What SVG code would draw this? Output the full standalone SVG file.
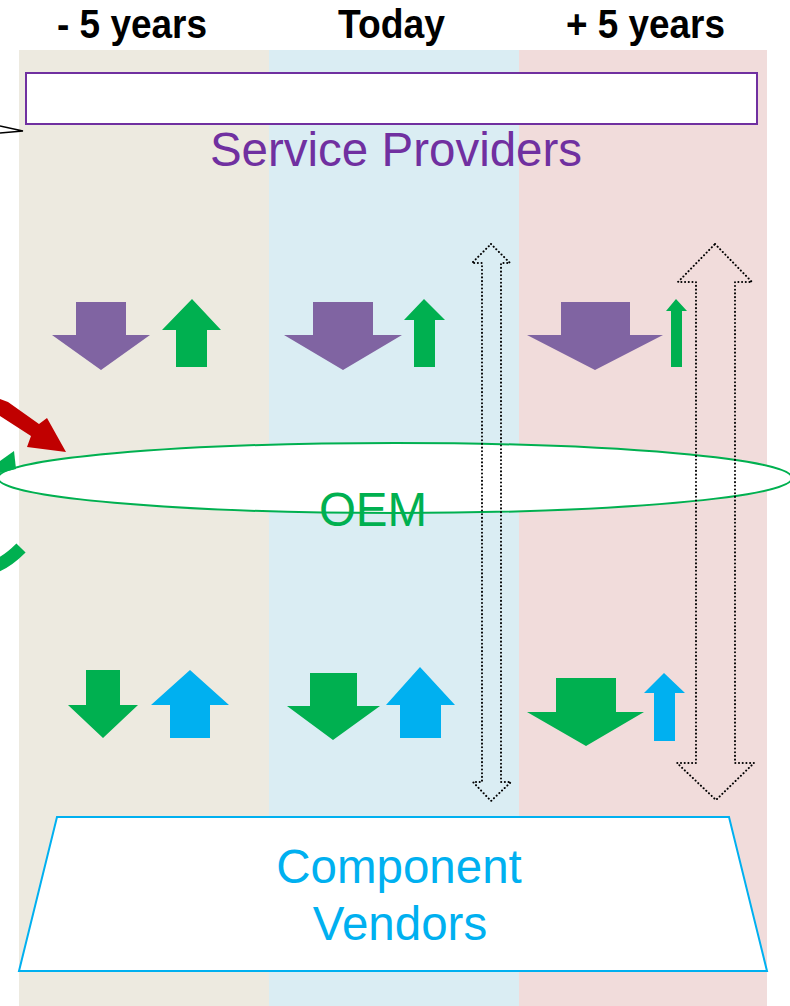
<svg xmlns="http://www.w3.org/2000/svg" width="790" height="1006" viewBox="0 0 790 1006">
  <style>
    .hdr { font-family: "Liberation Sans Narrow", "Liberation Sans", Arial, sans-serif; font-weight: bold; font-size: 41px; fill: #000; text-anchor: middle; }
    .lbl { font-family: "Liberation Sans", Arial, sans-serif; font-size: 47.5px; text-anchor: middle; }
    .purple { fill: #8064a2; }
    .green { fill: #00b050; }
    .blue { fill: #00b0f0; }
    .dotted { fill: none; stroke: #000; stroke-width: 2; stroke-dasharray: 0.1 3.6; stroke-linecap: round; stroke-linejoin: round; }
  </style>

  <rect width="790" height="1006" fill="#ffffff"/>

  <!-- time columns -->
  <g id="columns">
    <rect x="19" y="50" width="250" height="956" fill="#edeae0"/>
    <rect x="269" y="50" width="250" height="956" fill="#daedf3"/>
    <rect x="519" y="50" width="248" height="956" fill="#f1dcdb"/>
  </g>

  <g id="headers">
    <text class="hdr" x="132" y="38" textLength="150" lengthAdjust="spacingAndGlyphs">- 5 years</text>
    <text class="hdr" x="391.5" y="38" textLength="107" lengthAdjust="spacingAndGlyphs">Today</text>
    <text class="hdr" x="645.5" y="38" textLength="159" lengthAdjust="spacingAndGlyphs">+ 5 years</text>
  </g>

  <g id="service-providers">
    <rect x="26" y="73" width="731" height="51" fill="#ffffff" stroke="#7030a0" stroke-width="2"/>
    <text class="lbl" x="396" y="166" fill="#7030a0">Service Providers</text>
  </g>

  <g id="oem">
    <ellipse cx="395" cy="478" rx="397" ry="35" fill="#ffffff" stroke="#00b050" stroke-width="2"/>
    <text class="lbl" x="373" y="526" fill="#00b050">OEM</text>
  </g>

  <g id="component-vendors">
    <polygon points="57,817 729,817 767,971 19,971" fill="#ffffff" stroke="#00b0f0" stroke-width="2"/>
    <text class="lbl" x="399" y="883" fill="#00b0f0">Component</text>
    <text class="lbl" x="400" y="940" fill="#00b0f0">Vendors</text>
  </g>

  <g id="connectors">
    <!-- pointer entering at top left -->
    <polyline points="0,126 23,131 0,133" fill="none" stroke="#000" stroke-width="1.3"/>

    <!-- red arrow into OEM -->
    <polygon fill="#c00000" points="0,399 0,416 31,436 27,447 66,452 47,418 39,424 8,402"/>

    <!-- green curved arrows at the left edge -->
    <polygon class="green" points="0,461 14,451 16,469 0,473"/>
    <path d="M -4 566 Q 8 561 21 548" fill="none" stroke="#00b050" stroke-width="13"/>

    <!-- OEM -> service providers / service providers -> OEM -->
    <polygon class="purple" points="76,302 126,302 126,335 150,335 101,370 52,335 76,335"/>
    <polygon class="green" points="192,299 221,330 207,330 207,367 176,367 176,330 162,330"/>

    <polygon class="purple" points="313,302 373,302 373,335 402,335 343,370 284,335 313,335"/>
    <polygon class="green" points="424,299 445,320 435,320 435,367 414,367 414,320 404,320"/>

    <polygon class="purple" points="561,302 630,302 630,335 663,335 595,370 527,335 561,335"/>
    <polygon class="green" points="676,299 687,311 682,311 682,367 671,367 671,311 666,311"/>

    <!-- OEM -> component vendors / component vendors -> OEM -->
    <polygon class="green" points="86,670 120,670 120,705 138,705 103,738 68,705 86,705"/>
    <polygon class="blue" points="190,670 229,705 210,705 210,738 170,738 170,705 151,705"/>

    <polygon class="green" points="310,673 357,673 357,706 380,706 333,740 287,706 310,706"/>
    <polygon class="blue" points="420,667 455,705 441,705 441,738 400,738 400,705 386,705"/>

    <polygon class="green" points="556,678 616,678 616,712 644,712 586,746 527,712 556,712"/>
    <polygon class="blue" points="664,673 685,693 675,693 675,741 654,741 654,693 644,693"/>

    <!-- dotted two-way arrows -->
    <polygon class="dotted" points="491,244 510,263 501,263 501,782 511,782 491,801 473,782 482,782 482,263 472,263"/>
    <polygon class="dotted" points="715,244 752,282 735,282 735,763 754,763 716,800 677,763 696,763 696,282 678,282"/>
  </g>
</svg>
